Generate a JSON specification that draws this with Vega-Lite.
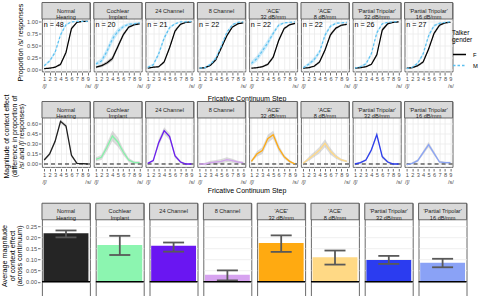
{
"$schema": "https://vega.github.io/schema/vega-lite/v6.json",
"padding": {"left": 0, "top": 1.5, "right": 0, "bottom": 0},
"background": "white",
"datasets": {
"curves": [
{"c":"NH","nlab":"n = 48","label":"Normal\nHearing"},{"c":"CI","nlab":"n = 20","label":"Cochlear\nImplant"},{"c":"C24","nlab":"n = 21","label":"24 Channel"},{"c":"C8","nlab":"n = 22","label":"8 Channel"},
{"c":"ACE32","nlab":"n = 22","label":"'ACE'\n32 dB/mm"},{"c":"ACE8","nlab":"n = 22","label":"'ACE'\n8 dB/mm"},{"c":"PT32","nlab":"n = 26","label":"'Partial Tripolar'\n32 dB/mm"},{"c":"PT16","nlab":"n = 27","label":"'Partial Tripolar'\n16 dB/mm"},
{"c":"NH","g":"F","s":1,"p":0.01,"lo":0.0,"hi":0.02},{"c":"NH","g":"F","s":2,"p":0.02,"lo":0.01,"hi":0.03},{"c":"NH","g":"F","s":3,"p":0.04,"lo":0.025,"hi":0.055},{"c":"NH","g":"F","s":4,"p":0.10,"lo":0.07,"hi":0.13},{"c":"NH","g":"F","s":5,"p":0.35,"lo":0.31,"hi":0.39},{"c":"NH","g":"F","s":6,"p":0.85,"lo":0.81,"hi":0.89},{"c":"NH","g":"F","s":7,"p":0.98,"lo":0.965,"hi":0.995},{"c":"NH","g":"F","s":8,"p":1.0,"lo":0.995,"hi":1.0},{"c":"NH","g":"F","s":9,"p":1.0,"lo":0.995,"hi":1.0},
{"c":"NH","g":"M","s":1,"p":0.07,"lo":0.05,"hi":0.09},{"c":"NH","g":"M","s":2,"p":0.17,"lo":0.14,"hi":0.2},{"c":"NH","g":"M","s":3,"p":0.35,"lo":0.31,"hi":0.39},{"c":"NH","g":"M","s":4,"p":0.72,"lo":0.68,"hi":0.76},{"c":"NH","g":"M","s":5,"p":0.93,"lo":0.905,"hi":0.955},{"c":"NH","g":"M","s":6,"p":0.99,"lo":0.98,"hi":1.0},{"c":"NH","g":"M","s":7,"p":1.0,"lo":0.995,"hi":1.0},{"c":"NH","g":"M","s":8,"p":1.0,"lo":0.995,"hi":1.0},{"c":"NH","g":"M","s":9,"p":1.0,"lo":0.995,"hi":1.0},
{"c":"CI","g":"F","s":1,"p":0.04,"lo":0.02,"hi":0.06},{"c":"CI","g":"F","s":2,"p":0.07,"lo":0.04,"hi":0.1},{"c":"CI","g":"F","s":3,"p":0.13,"lo":0.09,"hi":0.17},{"c":"CI","g":"F","s":4,"p":0.22,"lo":0.17,"hi":0.27},{"c":"CI","g":"F","s":5,"p":0.47,"lo":0.42,"hi":0.52},{"c":"CI","g":"F","s":6,"p":0.72,"lo":0.68,"hi":0.76},{"c":"CI","g":"F","s":7,"p":0.88,"lo":0.85,"hi":0.91},{"c":"CI","g":"F","s":8,"p":0.93,"lo":0.91,"hi":0.95},{"c":"CI","g":"F","s":9,"p":0.95,"lo":0.93,"hi":0.97},
{"c":"CI","g":"M","s":1,"p":0.11,"lo":0.07,"hi":0.15},{"c":"CI","g":"M","s":2,"p":0.17,"lo":0.11,"hi":0.23},{"c":"CI","g":"M","s":3,"p":0.37,"lo":0.29,"hi":0.45},{"c":"CI","g":"M","s":4,"p":0.63,"lo":0.55,"hi":0.71},{"c":"CI","g":"M","s":5,"p":0.79,"lo":0.73,"hi":0.85},{"c":"CI","g":"M","s":6,"p":0.89,"lo":0.85,"hi":0.93},{"c":"CI","g":"M","s":7,"p":0.94,"lo":0.91,"hi":0.97},{"c":"CI","g":"M","s":8,"p":0.95,"lo":0.93,"hi":0.97},{"c":"CI","g":"M","s":9,"p":0.97,"lo":0.95,"hi":0.99},
{"c":"C24","g":"F","s":1,"p":0.02,"lo":0.01,"hi":0.03},{"c":"C24","g":"F","s":2,"p":0.04,"lo":0.025,"hi":0.055},{"c":"C24","g":"F","s":3,"p":0.05,"lo":0.03,"hi":0.07},{"c":"C24","g":"F","s":4,"p":0.15,"lo":0.12,"hi":0.18},{"c":"C24","g":"F","s":5,"p":0.45,"lo":0.41,"hi":0.49},{"c":"C24","g":"F","s":6,"p":0.80,"lo":0.76,"hi":0.84},{"c":"C24","g":"F","s":7,"p":0.94,"lo":0.92,"hi":0.96},{"c":"C24","g":"F","s":8,"p":0.98,"lo":0.97,"hi":0.99},{"c":"C24","g":"F","s":9,"p":0.99,"lo":0.98,"hi":1.0},
{"c":"C24","g":"M","s":1,"p":0.04,"lo":0.02,"hi":0.06},{"c":"C24","g":"M","s":2,"p":0.09,"lo":0.06,"hi":0.12},{"c":"C24","g":"M","s":3,"p":0.32,"lo":0.27,"hi":0.37},{"c":"C24","g":"M","s":4,"p":0.65,"lo":0.6,"hi":0.7},{"c":"C24","g":"M","s":5,"p":0.87,"lo":0.84,"hi":0.9},{"c":"C24","g":"M","s":6,"p":0.95,"lo":0.93,"hi":0.97},{"c":"C24","g":"M","s":7,"p":0.99,"lo":0.98,"hi":1.0},{"c":"C24","g":"M","s":8,"p":0.99,"lo":0.98,"hi":1.0},{"c":"C24","g":"M","s":9,"p":1.0,"lo":0.995,"hi":1.0},
{"c":"C8","g":"F","s":1,"p":0.02,"lo":0.01,"hi":0.03},{"c":"C8","g":"F","s":2,"p":0.03,"lo":0.015,"hi":0.045},{"c":"C8","g":"F","s":3,"p":0.08,"lo":0.06,"hi":0.1},{"c":"C8","g":"F","s":4,"p":0.2,"lo":0.17,"hi":0.23},{"c":"C8","g":"F","s":5,"p":0.45,"lo":0.42,"hi":0.48},{"c":"C8","g":"F","s":6,"p":0.7,"lo":0.67,"hi":0.73},{"c":"C8","g":"F","s":7,"p":0.88,"lo":0.86,"hi":0.9},{"c":"C8","g":"F","s":8,"p":0.95,"lo":0.935,"hi":0.965},{"c":"C8","g":"F","s":9,"p":0.97,"lo":0.96,"hi":0.98},
{"c":"C8","g":"M","s":1,"p":0.02,"lo":0.01,"hi":0.03},{"c":"C8","g":"M","s":2,"p":0.03,"lo":0.01,"hi":0.05},{"c":"C8","g":"M","s":3,"p":0.1,"lo":0.07,"hi":0.13},{"c":"C8","g":"M","s":4,"p":0.23,"lo":0.195,"hi":0.265},{"c":"C8","g":"M","s":5,"p":0.49,"lo":0.455,"hi":0.525},{"c":"C8","g":"M","s":6,"p":0.77,"lo":0.74,"hi":0.8},{"c":"C8","g":"M","s":7,"p":0.93,"lo":0.91,"hi":0.95},{"c":"C8","g":"M","s":8,"p":0.98,"lo":0.97,"hi":0.99},{"c":"C8","g":"M","s":9,"p":0.99,"lo":0.98,"hi":1.0},
{"c":"ACE32","g":"F","s":1,"p":0.02,"lo":0.01,"hi":0.03},{"c":"ACE32","g":"F","s":2,"p":0.03,"lo":0.015,"hi":0.045},{"c":"ACE32","g":"F","s":3,"p":0.05,"lo":0.03,"hi":0.07},{"c":"ACE32","g":"F","s":4,"p":0.1,"lo":0.07,"hi":0.13},{"c":"ACE32","g":"F","s":5,"p":0.25,"lo":0.21,"hi":0.29},{"c":"ACE32","g":"F","s":6,"p":0.6,"lo":0.56,"hi":0.64},{"c":"ACE32","g":"F","s":7,"p":0.85,"lo":0.82,"hi":0.88},{"c":"ACE32","g":"F","s":8,"p":0.93,"lo":0.91,"hi":0.95},{"c":"ACE32","g":"F","s":9,"p":0.96,"lo":0.945,"hi":0.975},
{"c":"ACE32","g":"M","s":1,"p":0.12,"lo":0.07,"hi":0.17},{"c":"ACE32","g":"M","s":2,"p":0.22,"lo":0.16,"hi":0.28},{"c":"ACE32","g":"M","s":3,"p":0.38,"lo":0.31,"hi":0.45},{"c":"ACE32","g":"M","s":4,"p":0.55,"lo":0.48,"hi":0.62},{"c":"ACE32","g":"M","s":5,"p":0.75,"lo":0.7,"hi":0.8},{"c":"ACE32","g":"M","s":6,"p":0.92,"lo":0.89,"hi":0.95},{"c":"ACE32","g":"M","s":7,"p":0.97,"lo":0.95,"hi":0.99},{"c":"ACE32","g":"M","s":8,"p":0.98,"lo":0.97,"hi":0.99},{"c":"ACE32","g":"M","s":9,"p":0.99,"lo":0.98,"hi":1.0},
{"c":"ACE8","g":"F","s":1,"p":0.02,"lo":0.01,"hi":0.03},{"c":"ACE8","g":"F","s":2,"p":0.03,"lo":0.015,"hi":0.045},{"c":"ACE8","g":"F","s":3,"p":0.06,"lo":0.04,"hi":0.08},{"c":"ACE8","g":"F","s":4,"p":0.15,"lo":0.12,"hi":0.18},{"c":"ACE8","g":"F","s":5,"p":0.4,"lo":0.36,"hi":0.44},{"c":"ACE8","g":"F","s":6,"p":0.72,"lo":0.68,"hi":0.76},{"c":"ACE8","g":"F","s":7,"p":0.86,"lo":0.83,"hi":0.89},{"c":"ACE8","g":"F","s":8,"p":0.92,"lo":0.9,"hi":0.94},{"c":"ACE8","g":"F","s":9,"p":0.94,"lo":0.92,"hi":0.96},
{"c":"ACE8","g":"M","s":1,"p":0.03,"lo":0.01,"hi":0.05},{"c":"ACE8","g":"M","s":2,"p":0.1,"lo":0.06,"hi":0.14},{"c":"ACE8","g":"M","s":3,"p":0.2,"lo":0.15,"hi":0.25},{"c":"ACE8","g":"M","s":4,"p":0.36,"lo":0.31,"hi":0.41},{"c":"ACE8","g":"M","s":5,"p":0.71,"lo":0.66,"hi":0.76},{"c":"ACE8","g":"M","s":6,"p":0.9,"lo":0.87,"hi":0.93},{"c":"ACE8","g":"M","s":7,"p":0.96,"lo":0.94,"hi":0.98},{"c":"ACE8","g":"M","s":8,"p":0.97,"lo":0.955,"hi":0.985},{"c":"ACE8","g":"M","s":9,"p":0.98,"lo":0.97,"hi":0.99},
{"c":"PT32","g":"F","s":1,"p":0.02,"lo":0.01,"hi":0.03},{"c":"PT32","g":"F","s":2,"p":0.03,"lo":0.02,"hi":0.04},{"c":"PT32","g":"F","s":3,"p":0.05,"lo":0.035,"hi":0.065},{"c":"PT32","g":"F","s":4,"p":0.1,"lo":0.08,"hi":0.12},{"c":"PT32","g":"F","s":5,"p":0.3,"lo":0.26,"hi":0.34},{"c":"PT32","g":"F","s":6,"p":0.82,"lo":0.78,"hi":0.86},{"c":"PT32","g":"F","s":7,"p":0.95,"lo":0.93,"hi":0.97},{"c":"PT32","g":"F","s":8,"p":0.98,"lo":0.97,"hi":0.99},{"c":"PT32","g":"F","s":9,"p":0.99,"lo":0.98,"hi":1.0},
{"c":"PT32","g":"M","s":1,"p":0.02,"lo":0.01,"hi":0.03},{"c":"PT32","g":"M","s":2,"p":0.05,"lo":0.03,"hi":0.07},{"c":"PT32","g":"M","s":3,"p":0.11,"lo":0.08,"hi":0.14},{"c":"PT32","g":"M","s":4,"p":0.32,"lo":0.28,"hi":0.36},{"c":"PT32","g":"M","s":5,"p":0.76,"lo":0.72,"hi":0.8},{"c":"PT32","g":"M","s":6,"p":0.95,"lo":0.93,"hi":0.97},{"c":"PT32","g":"M","s":7,"p":0.98,"lo":0.97,"hi":0.99},{"c":"PT32","g":"M","s":8,"p":0.99,"lo":0.98,"hi":1.0},{"c":"PT32","g":"M","s":9,"p":1.0,"lo":0.995,"hi":1.0},
{"c":"PT16","g":"F","s":1,"p":0.02,"lo":0.01,"hi":0.03},{"c":"PT16","g":"F","s":2,"p":0.03,"lo":0.015,"hi":0.045},{"c":"PT16","g":"F","s":3,"p":0.07,"lo":0.05,"hi":0.09},{"c":"PT16","g":"F","s":4,"p":0.15,"lo":0.12,"hi":0.18},{"c":"PT16","g":"F","s":5,"p":0.42,"lo":0.38,"hi":0.46},{"c":"PT16","g":"F","s":6,"p":0.75,"lo":0.71,"hi":0.79},{"c":"PT16","g":"F","s":7,"p":0.92,"lo":0.89,"hi":0.95},{"c":"PT16","g":"F","s":8,"p":0.97,"lo":0.955,"hi":0.985},{"c":"PT16","g":"F","s":9,"p":0.98,"lo":0.97,"hi":0.99},
{"c":"PT16","g":"M","s":1,"p":0.01,"lo":0.0,"hi":0.02},{"c":"PT16","g":"M","s":2,"p":0.04,"lo":0.02,"hi":0.06},{"c":"PT16","g":"M","s":3,"p":0.12,"lo":0.09,"hi":0.15},{"c":"PT16","g":"M","s":4,"p":0.32,"lo":0.28,"hi":0.36},{"c":"PT16","g":"M","s":5,"p":0.7,"lo":0.66,"hi":0.74},{"c":"PT16","g":"M","s":6,"p":0.91,"lo":0.88,"hi":0.94},{"c":"PT16","g":"M","s":7,"p":0.96,"lo":0.94,"hi":0.98},{"c":"PT16","g":"M","s":8,"p":0.98,"lo":0.97,"hi":0.99},{"c":"PT16","g":"M","s":9,"p":0.99,"lo":0.98,"hi":1.0}
],
"effect": [
{"c":"NH","label":"Normal\nHearing"},{"c":"CI","label":"Cochlear\nImplant"},{"c":"C24","label":"24 Channel"},{"c":"C8","label":"8 Channel"},
{"c":"ACE32","label":"'ACE'\n32 dB/mm"},{"c":"ACE8","label":"'ACE'\n8 dB/mm"},{"c":"PT32","label":"'Partial Tripolar'\n32 dB/mm"},{"c":"PT16","label":"'Partial Tripolar'\n16 dB/mm"},
{"c":"NH","s":1,"d":0.06,"lo":0.04,"hi":0.08},{"c":"NH","s":2,"d":0.15,"lo":0.125,"hi":0.175},{"c":"NH","s":3,"d":0.34,"lo":0.31,"hi":0.37},{"c":"NH","s":4,"d":0.64,"lo":0.61,"hi":0.67},{"c":"NH","s":5,"d":0.57,"lo":0.54,"hi":0.6},{"c":"NH","s":6,"d":0.13,"lo":0.1,"hi":0.16},{"c":"NH","s":7,"d":0.01,"lo":0.0,"hi":0.02},{"c":"NH","s":8,"d":0.005,"lo":0.0,"hi":0.01},{"c":"NH","s":9,"d":0.0,"lo":-0.005,"hi":0.005},
{"c":"CI","s":1,"d":0.07,"lo":0.04,"hi":0.1},{"c":"CI","s":2,"d":0.1,"lo":0.06,"hi":0.14},{"c":"CI","s":3,"d":0.25,"lo":0.19,"hi":0.31},{"c":"CI","s":4,"d":0.42,"lo":0.34,"hi":0.5},{"c":"CI","s":5,"d":0.33,"lo":0.26,"hi":0.4},{"c":"CI","s":6,"d":0.18,"lo":0.13,"hi":0.23},{"c":"CI","s":7,"d":0.06,"lo":0.03,"hi":0.09},{"c":"CI","s":8,"d":0.02,"lo":0.0,"hi":0.04},{"c":"CI","s":9,"d":0.02,"lo":0.0,"hi":0.04},
{"c":"C24","s":1,"d":0.01,"lo":0.0,"hi":0.02},{"c":"C24","s":2,"d":0.05,"lo":0.03,"hi":0.07},{"c":"C24","s":3,"d":0.32,"lo":0.27,"hi":0.37},{"c":"C24","s":4,"d":0.5,"lo":0.45,"hi":0.55},{"c":"C24","s":5,"d":0.41,"lo":0.36,"hi":0.46},{"c":"C24","s":6,"d":0.12,"lo":0.09,"hi":0.15},{"c":"C24","s":7,"d":0.03,"lo":0.01,"hi":0.05},{"c":"C24","s":8,"d":0.0,"lo":-0.01,"hi":0.01},{"c":"C24","s":9,"d":0.0,"lo":-0.01,"hi":0.01},
{"c":"C8","s":1,"d":0.0,"lo":-0.01,"hi":0.01},{"c":"C8","s":2,"d":0.0,"lo":-0.02,"hi":0.02},{"c":"C8","s":3,"d":0.02,"lo":-0.01,"hi":0.05},{"c":"C8","s":4,"d":0.03,"lo":0.0,"hi":0.06},{"c":"C8","s":5,"d":0.04,"lo":0.005,"hi":0.075},{"c":"C8","s":6,"d":0.065,"lo":0.03,"hi":0.1},{"c":"C8","s":7,"d":0.05,"lo":0.02,"hi":0.08},{"c":"C8","s":8,"d":0.03,"lo":0.01,"hi":0.05},{"c":"C8","s":9,"d":0.02,"lo":0.005,"hi":0.035},
{"c":"ACE32","s":1,"d":0.04,"lo":0.02,"hi":0.06},{"c":"ACE32","s":2,"d":0.15,"lo":0.11,"hi":0.19},{"c":"ACE32","s":3,"d":0.2,"lo":0.15,"hi":0.25},{"c":"ACE32","s":4,"d":0.38,"lo":0.32,"hi":0.44},{"c":"ACE32","s":5,"d":0.44,"lo":0.38,"hi":0.5},{"c":"ACE32","s":6,"d":0.24,"lo":0.19,"hi":0.29},{"c":"ACE32","s":7,"d":0.11,"lo":0.08,"hi":0.14},{"c":"ACE32","s":8,"d":0.04,"lo":0.02,"hi":0.06},{"c":"ACE32","s":9,"d":0.0,"lo":-0.01,"hi":0.01},
{"c":"ACE8","s":1,"d":0.01,"lo":0.0,"hi":0.02},{"c":"ACE8","s":2,"d":0.075,"lo":0.045,"hi":0.105},{"c":"ACE8","s":3,"d":0.14,"lo":0.1,"hi":0.18},{"c":"ACE8","s":4,"d":0.21,"lo":0.16,"hi":0.26},{"c":"ACE8","s":5,"d":0.31,"lo":0.25,"hi":0.37},{"c":"ACE8","s":6,"d":0.19,"lo":0.14,"hi":0.24},{"c":"ACE8","s":7,"d":0.11,"lo":0.08,"hi":0.14},{"c":"ACE8","s":8,"d":0.06,"lo":0.04,"hi":0.08},{"c":"ACE8","s":9,"d":0.04,"lo":0.025,"hi":0.055},
{"c":"PT32","s":1,"d":0.0,"lo":-0.01,"hi":0.01},{"c":"PT32","s":2,"d":0.02,"lo":0.005,"hi":0.035},{"c":"PT32","s":3,"d":0.06,"lo":0.04,"hi":0.08},{"c":"PT32","s":4,"d":0.21,"lo":0.18,"hi":0.24},{"c":"PT32","s":5,"d":0.44,"lo":0.4,"hi":0.48},{"c":"PT32","s":6,"d":0.11,"lo":0.08,"hi":0.14},{"c":"PT32","s":7,"d":0.03,"lo":0.01,"hi":0.05},{"c":"PT32","s":8,"d":0.0,"lo":-0.01,"hi":0.01},{"c":"PT32","s":9,"d":0.0,"lo":-0.01,"hi":0.01},
{"c":"PT16","s":1,"d":-0.01,"lo":-0.02,"hi":0.0},{"c":"PT16","s":2,"d":0.01,"lo":-0.005,"hi":0.025},{"c":"PT16","s":3,"d":0.05,"lo":0.03,"hi":0.07},{"c":"PT16","s":4,"d":0.17,"lo":0.14,"hi":0.2},{"c":"PT16","s":5,"d":0.29,"lo":0.25,"hi":0.33},{"c":"PT16","s":6,"d":0.16,"lo":0.13,"hi":0.19},{"c":"PT16","s":7,"d":0.03,"lo":0.01,"hi":0.05},{"c":"PT16","s":8,"d":0.02,"lo":0.005,"hi":0.035},{"c":"PT16","s":9,"d":0.02,"lo":0.005,"hi":0.035}
],
"bars": [
{"c":"NH","label":"Normal\nHearing","m":0.217,"lo":0.199,"hi":0.23},
{"c":"CI","label":"Cochlear\nImplant","m":0.165,"lo":0.12,"hi":0.206},
{"c":"C24","label":"24 Channel","m":0.161,"lo":0.135,"hi":0.176},
{"c":"C8","label":"8 Channel","m":0.031,"lo":0.006,"hi":0.051},
{"c":"ACE32","label":"'ACE'\n32 dB/mm","m":0.174,"lo":0.134,"hi":0.208},
{"c":"ACE8","label":"'ACE'\n8 dB/mm","m":0.11,"lo":0.077,"hi":0.14},
{"c":"PT32","label":"'Partial Tripolar'\n32 dB/mm","m":0.098,"lo":0.08,"hi":0.116},
{"c":"PT16","label":"'Partial Tripolar'\n16 dB/mm","m":0.085,"lo":0.065,"hi":0.103}
]
},
"spacing": 7.7,
"resolve": {"scale": {"fill": "independent", "stroke": "independent"}},
"vconcat": [
{"spacing": -8.5,
 "resolve": {"scale": {"fill": "independent", "stroke": "independent"}},
 "vconcat": [
 {"data": {"name": "curves"},
  "facet": {"column": {"field": "c", "sort": ["NH","CI","C24","C8","ACE32","ACE8","PT32","PT16"], "header": {"labels": false, "labelOrient": "bottom", "title": "Fricative Continuum Step", "titleOrient": "bottom", "titlePadding": -5, "titleColor": "#000000", "titleFontSize": 7, "titleFontWeight": "normal"}}},
  "spacing": {"column": 1.8},
  "spec": {"width": 48, "height": 69,
   "resolve": {"axis": {"x": "independent", "y": "independent"}},
   "layer": [
    {"transform": [{"filter": "isValid(datum.s)"}],
     "mark": {"type": "area", "opacity": 0.45},
     "encoding": {
      "x": {"field": "s", "type": "quantitative", "scale": {"domain": [0.6, 9.4], "nice": false, "zero": false},
        "axis": {"values": [1,2,3,4,5,6,7,8,9], "title": null, "labelFlush": false, "labelOverlap": false, "labelBound": false, "labelLineHeight": 7, "gridWidth": 0.8,
          "labelExpr": "datum.value === 1 ? ['1','/ʃ/'] : datum.value === 9 ? ['9','/s/'] : format(datum.value, 'd')"}},
      "y": {"field": "lo", "type": "quantitative", "scale": {"domain": [-0.05, 1.3965], "nice": false, "zero": false},
        "axis": {"values": [0,0.25,0.5,0.75,1], "format": ".2f", "title": "Proportion /s/ responses", "titleY": 39.5, "labelOverlap": false, "gridWidth": 0.8}},
      "y2": {"field": "hi"},
      "fill": {"field": "g", "type": "nominal", "scale": {"domain": ["F","M"], "range": ["#8a8a8a","#8fd4f7"]}, "legend": null}}},
    {"transform": [{"filter": "isValid(datum.s)"}],
     "mark": {"type": "line", "strokeWidth": 1.2},
     "encoding": {
      "x": {"field": "s", "type": "quantitative",
        "axis": {"values": [1.5,2.5,3.5,4.5,5.5,6.5,7.5,8.5], "orient": "bottom", "labels": false, "ticks": false, "domain": false, "title": null, "gridWidth": 0.4}},
      "y": {"field": "p", "type": "quantitative",
        "axis": {"values": [0.125,0.375,0.625,0.875], "orient": "left", "labels": false, "ticks": false, "domain": false, "title": null, "gridWidth": 0.4}},
      "color": {"field": "g", "type": "nominal", "scale": {"domain": ["F","M"], "range": ["#000000","#5bc0f0"]}, "legend": {"title": ["Talker","gender"], "orient": "none", "legendX": 410, "legendY": 27.5}},
      "strokeDash": {"field": "g", "type": "nominal", "scale": {"domain": ["F","M"], "range": [[1,0],[2.5,2]]}, "legend": {"title": ["Talker","gender"], "orient": "none", "legendX": 410, "legendY": 27.5}}}},
    {"transform": [{"filter": "isValid(datum.nlab)"}],
     "mark": {"type": "text", "align": "left", "baseline": "middle", "fontSize": 7.2, "color": "#000000"},
     "encoding": {"x": {"datum": 0.9, "axis": null}, "y": {"datum": 0.93, "axis": null}, "text": {"field": "nlab"}}},
    {"transform": [{"filter": "isValid(datum.label)"}],
     "mark": {"type": "rect", "fill": "#d9d9d9", "stroke": "#595959", "strokeWidth": 0.9},
     "encoding": {"y": {"datum": 1.05, "axis": null}, "y2": {"datum": 1.3965}}},
    {"transform": [{"filter": "isValid(datum.label)"}],
     "mark": {"type": "text", "fontSize": 5.6, "color": "#1a1a1a", "lineBreak": "\n", "lineHeight": 6.5, "baseline": "middle"},
     "encoding": {"y": {"datum": 1.2233, "axis": null}, "text": {"field": "label"}}}
   ]}},
 {"data": {"name": "effect"},
  "facet": {"column": {"field": "c", "sort": ["NH","CI","C24","C8","ACE32","ACE8","PT32","PT16"], "header": {"labels": false, "labelOrient": "bottom", "title": "Fricative Continuum Step", "titleOrient": "bottom", "titlePadding": -8.5, "titleColor": "#000000", "titleFontSize": 7, "titleFontWeight": "normal"}}},
  "spacing": {"column": 1.8},
  "spec": {"width": 48, "height": 65.5,
   "resolve": {"axis": {"x": "independent", "y": "independent"}},
   "layer": [
    {"transform": [{"filter": "isValid(datum.s)"}],
     "mark": {"type": "area", "opacity": 0.35, "color": "#9a9a9a"},
     "encoding": {
      "x": {"field": "s", "type": "quantitative", "scale": {"domain": [0.6, 9.4], "nice": false, "zero": false},
        "axis": {"values": [1,2,3,4,5,6,7,8,9], "title": null, "labelFlush": false, "labelOverlap": false, "labelBound": false, "labelLineHeight": 7, "gridWidth": 0.8,
          "labelExpr": "datum.value === 1 ? ['1','/ʃ/'] : datum.value === 9 ? ['9','/s/'] : format(datum.value, 'd')"}},
      "y": {"field": "lo", "type": "quantitative", "scale": {"domain": [-0.045, 0.937], "nice": false, "zero": false},
        "axis": {"values": [0,0.15,0.3,0.45,0.6], "format": ".2f", "labelOverlap": false, "gridWidth": 0.8, "titleY": 34.5, "titleFontSize": 7,
          "title": ["Magnitude of context effect","(difference in proportion of","/s/ and /ʃ/ responses)"]}},
      "y2": {"field": "hi"}}},
    {"transform": [{"filter": "isValid(datum.label)"}],
     "mark": {"type": "rule", "color": "#000000", "strokeDash": [4,3], "strokeWidth": 0.9},
     "encoding": {"y": {"datum": 0, "axis": null}}},
    {"transform": [{"filter": "isValid(datum.s)"}],
     "mark": {"type": "line", "strokeWidth": 1.3},
     "encoding": {
      "x": {"field": "s", "type": "quantitative",
        "axis": {"values": [1.5,2.5,3.5,4.5,5.5,6.5,7.5,8.5], "orient": "bottom", "labels": false, "ticks": false, "domain": false, "title": null, "gridWidth": 0.4}},
      "y": {"field": "d", "type": "quantitative",
        "axis": {"values": [0.075,0.225,0.375,0.525,0.675], "orient": "left", "labels": false, "ticks": false, "domain": false, "title": null, "gridWidth": 0.4}},
      "stroke": {"field": "c", "type": "nominal", "legend": null,
        "scale": {"domain": ["NH","CI","C24","C8","ACE32","ACE8","PT32","PT16"], "range": ["#1f1f1f","#86f2aa","#6a1cf0","#d2a3ee","#ffaa12","#ffd987","#2b3df0","#8aa4f6"]}}}},
    {"transform": [{"filter": "isValid(datum.label)"}],
     "mark": {"type": "rect", "fill": "#d9d9d9", "stroke": "#595959", "strokeWidth": 0.9},
     "encoding": {"y": {"datum": 0.69, "axis": null}, "y2": {"datum": 0.937}}},
    {"transform": [{"filter": "isValid(datum.label)"}],
     "mark": {"type": "text", "fontSize": 5.6, "color": "#1a1a1a", "lineBreak": "\n", "lineHeight": 6.5, "baseline": "middle"},
     "encoding": {"y": {"datum": 0.8135, "axis": null}, "text": {"field": "label"}}}
   ]}}
]},
 {"data": {"name": "bars"},
  "facet": {"column": {"field": "c", "sort": ["NH","CI","C24","C8","ACE32","ACE8","PT32","PT16"], "header": null}},
  "spacing": {"column": 1.8},
  "resolve": {"scale": {"x": "independent"}},
  "spec": {"width": 48, "height": 93.5,
   "resolve": {"axis": {"y": "independent"}},
   "layer": [
    {"mark": {"type": "bar"},
     "encoding": {
      "x": {"field": "c", "type": "nominal", "axis": null, "scale": {"paddingInner": 0, "paddingOuter": 0.035}},
      "y": {"field": "m", "type": "quantitative", "scale": {"domain": [-0.067, 0.3523], "nice": false, "zero": false},
        "axis": {"values": [0,0.05,0.1,0.15,0.2,0.25], "format": ".2f", "labelOverlap": false, "gridWidth": 0.8, "titleY": 52.3,
          "title": ["Average magnitude","of context effect","(across continuum)"]}},
      "y2": {"datum": 0},
      "fill": {"field": "c", "type": "nominal", "legend": null,
        "scale": {"domain": ["NH","CI","C24","C8","ACE32","ACE8","PT32","PT16"], "range": ["#252525","#8cf5b0","#6a16f2","#d7a3f0","#ffaa11","#ffd985","#2b3cf0","#8aa2f6"]}}}},
    {"mark": {"type": "rule", "color": "#595959", "strokeWidth": 1.8},
     "encoding": {"x": {"field": "c", "type": "nominal"},
      "y": {"field": "lo", "type": "quantitative",
        "axis": {"values": [-0.05,-0.025,0.025,0.075,0.125,0.175,0.225,0.275], "orient": "left", "labels": false, "ticks": false, "domain": false, "title": null, "gridWidth": 0.4}},
      "y2": {"field": "hi"}}},
    {"mark": {"type": "tick", "color": "#595959", "thickness": 1.8, "size": 21, "opacity": 1},
     "encoding": {"x": {"field": "c", "type": "nominal"}, "y": {"field": "lo", "type": "quantitative", "axis": null}}},
    {"mark": {"type": "tick", "color": "#595959", "thickness": 1.8, "size": 21, "opacity": 1},
     "encoding": {"x": {"field": "c", "type": "nominal"}, "y": {"field": "hi", "type": "quantitative", "axis": null}}},
    {"mark": {"type": "rule", "color": "#000000", "strokeWidth": 1.6},
     "encoding": {"y": {"datum": 0, "axis": null}}},
    {"mark": {"type": "rect", "fill": "#d9d9d9", "stroke": "#595959", "strokeWidth": 0.9},
     "encoding": {"y": {"datum": 0.278, "axis": null}, "y2": {"datum": 0.3523}}},
    {"mark": {"type": "text", "fontSize": 5.6, "color": "#1a1a1a", "lineBreak": "\n", "lineHeight": 6.5, "baseline": "middle"},
     "encoding": {"y": {"datum": 0.3152, "axis": null}, "text": {"field": "label"}}}
   ]}}
],
"config": {
 "font": "Liberation Sans",
 "view": {"stroke": "#595959", "strokeWidth": 0.9},
 "axis": {"domain": false, "labelOverlap": false, "labelFontSize": 5.6, "labelColor": "#4d4d4d", "tickColor": "#333333", "tickSize": 2.5, "tickWidth": 0.7, "labelPadding": 1, "titleFontSize": 7.2, "titleFontWeight": "normal", "titleColor": "#000000", "gridColor": "#ebebeb"},
 "axisY": {"titlePadding": 2, "titleLineHeight": 7.5},
 "legend": {"titleFontSize": 6.5, "titleFontWeight": "normal", "titleLineHeight": 6.5, "labelFontSize": 5.8, "symbolSize": 169, "symbolStrokeWidth": 1.3, "rowPadding": -3.5, "labelOffset": 6, "titlePadding": 4, "padding": 0},
 "header": {"titleFontWeight": "normal", "titleFontSize": 7, "titleColor": "#000000"}
}
}
